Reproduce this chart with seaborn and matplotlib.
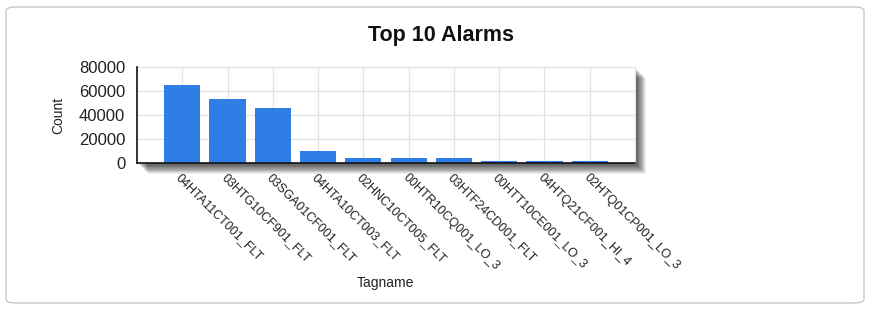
import matplotlib
matplotlib.use("Agg")
import matplotlib.pyplot as plt
import matplotlib.patches as mpatches
import seaborn as sns
import pandas as pd

# --- Datos ---
tagnames = ['04HTA11CT001_FLT', '03HTG10CF901_FLT', '03SGA01CF001_FLT', '04HTA10CT003_FLT',
            '02HNC10CT005_FLT', '00HTR10CQ001_LO_3', '03HTF24CD001_FLT', '00HTT10CE001_LO_3',
            '04HTQ21CF001_HI_4', '02HTQ01CP001_LO_3']
counts = [65000, 53300, 45500, 9700, 3800, 3800, 3800, 1900, 1900, 1900]
y_ticks = [0, 20000, 40000, 60000, 80000]

df = pd.DataFrame({'Tagname': tagnames, 'Count': counts})

sns.set_style("whitegrid")
plt.rcParams['font.family'] = ['Liberation Sans', 'DejaVu Sans']

fig = plt.figure(figsize=(8.7, 3.09), dpi=100)
W, H = 870, 309

# Marco exterior redondeado
marco = mpatches.FancyBboxPatch((6 / W, 6 / H), 858 / W, 296 / H,
                                boxstyle="round,pad=0,rounding_size=0.012",
                                transform=fig.transFigure, facecolor='white',
                                edgecolor='#c8c8c8', linewidth=1.0, zorder=0)
fig.patches.append(marco)

# Area del grafico
x0, x1, ytop, ybot = 137, 635, 67, 163
ax = fig.add_axes([x0 / W, 1 - ybot / H, (x1 - x0) / W, (ybot - ytop) / H])

# Sombra difusa detras del area del grafico
for i in range(12):
    d = 2 + i * 0.8
    sombra = mpatches.Rectangle(((x0 + d) / W, 1 - (ybot + d) / H), (x1 - x0) / W, (ybot - ytop) / H,
                                transform=fig.transFigure, facecolor='black',
                                alpha=0.07, edgecolor='none', zorder=1)
    fig.patches.append(sombra)
fondo = mpatches.Rectangle((x0 / W, 1 - ybot / H), (x1 - x0) / W, (ybot - ytop) / H,
                           transform=fig.transFigure, facecolor='white', edgecolor='none', zorder=2)
fig.patches.append(fondo)
ax.set_zorder(3)
ax.patch.set_alpha(0)

sns.barplot(data=df, x='Tagname', y='Count', color='#2f7ee6', saturation=1,
            width=0.8, linewidth=0, ax=ax, zorder=2)

ax.set_xlim(-1, len(tagnames))
ax.set_ylim(0, 80000)
ax.set_yticks(y_ticks)
ax.set_yticklabels([str(v) for v in y_ticks], fontsize=12, color='#222222')
ax.set_xticks(range(len(tagnames)))
ax.set_xticklabels(tagnames, rotation=-45, ha='left', va='top', rotation_mode='anchor',
                   fontsize=9, color='#222222')
ax.set_xticks([-1, len(tagnames)], minor=True)

ax.grid(True, axis='both', color='#e2e2e2', linewidth=0.9)
ax.set_axisbelow(True)
for lado in ['top', 'right']:
    ax.spines[lado].set_color('#e2e2e2')
for lado in ['left', 'bottom']:
    ax.spines[lado].set_color('#111111')
    ax.spines[lado].set_linewidth(1.2)
    ax.spines[lado].set_zorder(5)
ax.tick_params(axis='both', which='both', direction='out', length=5, width=1, color='#111111')
ax.tick_params(axis='x', pad=1)

ax.set_xlabel('')
ax.set_ylabel('')
fig.text(58 / W, 1 - 115 / H, 'Count', rotation=90, ha='center', va='center', fontsize=10, color='#222222')
fig.text(385 / W, 1 - 283 / H, 'Tagname', ha='center', va='center', fontsize=10, color='#222222')
fig.text(441 / W, 1 - 36 / H, 'Top 10 Alarms', ha='center', va='center', fontsize=15.5,
         weight='bold', color='#111111')

plt.savefig('out.png', dpi=100)
plt.close()
